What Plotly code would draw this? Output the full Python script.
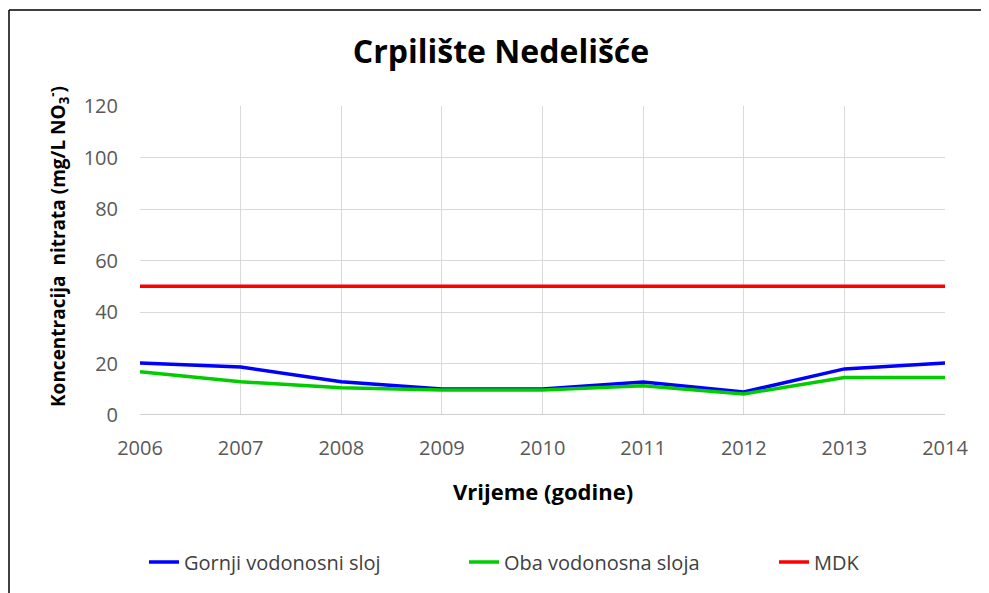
import plotly.graph_objects as go

years = [2006, 2007, 2008, 2009, 2010, 2011, 2012, 2013, 2014]
gornji = [20.2, 18.6, 12.9, 10.1, 10.1, 12.8, 8.9, 17.9, 20.2]
oba = [16.8, 12.9, 10.6, 9.7, 9.7, 11.4, 8.2, 14.6, 14.6]
mdk = [50, 50, 50, 50, 50, 50, 50, 50, 50]

FONT = "Open Sans"
OFF = 8  # page body offset
W, H = 981, 585
L, R, T, B = 140 - OFF, 945 - OFF, 106 - OFF, 415 - OFF
def px(x): return (x - OFF - L) / (R - L)
def py(y): return (B - (y - OFF)) / (B - T)

fig = go.Figure()
fig.add_trace(go.Scatter(x=years, y=gornji, mode="lines", name="Gornji vodonosni sloj",
                         line=dict(color="#0000ff", width=3.5), legend="legend"))
fig.add_trace(go.Scatter(x=years, y=oba, mode="lines", name="Oba vodonosna sloja",
                         line=dict(color="#00cc00", width=3.5), legend="legend2"))
fig.add_trace(go.Scatter(x=years, y=mdk, mode="lines", name="MDK",
                         line=dict(color="#ff0000", width=3.5), legend="legend3"))

def leg(xpage):
    return dict(orientation="h", x=px(xpage + 4), xanchor="left", y=py(562), yanchor="middle",
                font=dict(size=20, color="#404040"), bgcolor="rgba(0,0,0,0)")

fig.update_layout(
    width=W, height=H,
    margin=dict(l=L, r=W - R, t=T, b=H - B),
    paper_bgcolor="white", plot_bgcolor="white",
    font=dict(family=FONT, color="#595959", size=17),
    title=dict(text="<b>Crpilište Nedelišće</b>", x=px(501), xref="paper", xanchor="center",
               y=1 - (52 - OFF) / H, yref="container", yanchor="middle",
               font=dict(family=FONT, size=32, color="black")),
    xaxis=dict(range=[2006, 2014], dtick=1, showgrid=True, gridcolor="#d9d9d9", gridwidth=1,
               zeroline=False, showline=False, ticks="", ticklabelstandoff=19,
               tickfont=dict(size=20, color="#595959")),
    yaxis=dict(range=[0, 120], dtick=20, showgrid=True, gridcolor="#d9d9d9", gridwidth=1,
               zeroline=False, showline=False, ticks="", ticklabelstandoff=21,
               tickfont=dict(size=20, color="#595959")),
    legend=leg(140), legend2=leg(460), legend3=leg(770),
    showlegend=True,
)
fig.add_annotation(text="<b>Vrijeme (godine)</b>", xref="paper", yref="paper",
                   x=px(543), y=py(491), xanchor="center", yanchor="middle", showarrow=False,
                   font=dict(family=FONT, size=22, color="black"))
fig.add_annotation(text="<b>Koncentracija  nitrata (mg/L NO<sub>3</sub><sup>-</sup>)</b>",
                   xref="paper", yref="paper", x=px(58), y=py(247), xanchor="center",
                   yanchor="middle", textangle=-90, showarrow=False,
                   font=dict(family=FONT, size=19, color="black"))
# bottom axis line at 0
fig.add_shape(type="line", xref="paper", yref="y", x0=0, x1=1, y0=0, y1=0,
              line=dict(color="#bfbfbf", width=1.5))
# outer frame (top and left)
fig.add_shape(type="line", xref="paper", yref="paper", x0=px(9), x1=px(995), y0=py(10), y1=py(10),
              line=dict(color="black", width=1.5))
fig.add_shape(type="line", xref="paper", yref="paper", x0=px(9), x1=px(9), y0=py(10), y1=py(600),
              line=dict(color="black", width=1.5))

fig.write_html("out.html")
